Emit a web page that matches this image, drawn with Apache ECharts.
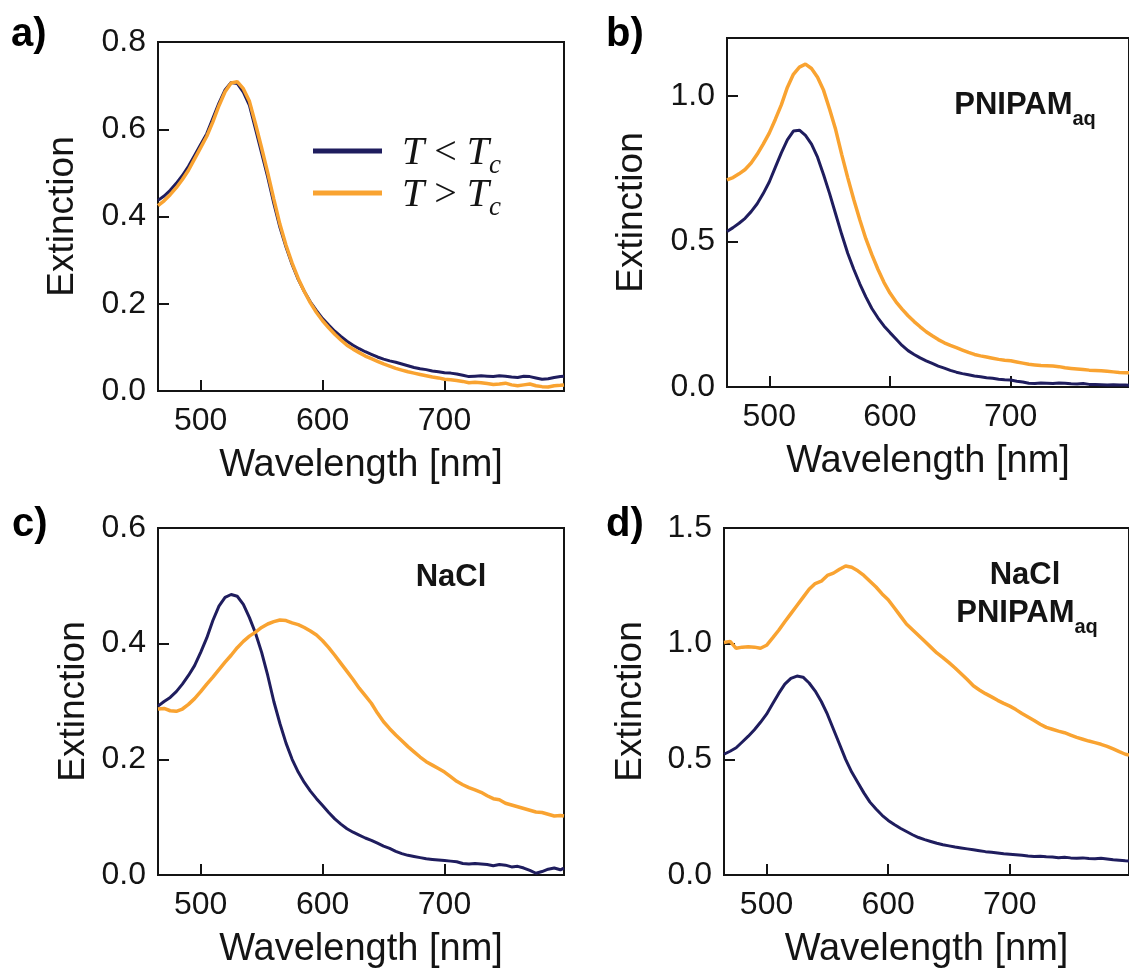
<!DOCTYPE html>
<html>
<head>
<meta charset="utf-8">
<script src="https://cdn.jsdelivr.net/npm/echarts@6/dist/echarts.min.js"></script>
<style>html,body{margin:0;padding:0;background:#fff}#chart{width:1129px;height:970px}</style>
</head>
<body>
<div id="chart"></div>
<script>
// ---------- data ----------
const wavelength = [
  465,470,475,480,485,490,495,500,505,510,
  515,520,525,530,535,540,545,550,555,560,
  565,570,575,580,585,590,595,600,605,610,
  615,620,625,630,635,640,645,650,655,660,
  665,670,675,680,685,690,695,700,705,710,
  715,720,725,730,735,740,745,750,755,760,
  765,770,775,780,785,790,795,798
];
// panel a
const aBelow = [
  .437,.447,.46,.476,.494,.515,.54,.565,.59,.625,
  .66,.69,.707,.705,.685,.655,.6,.545,.49,.43,
  .375,.33,.29,.256,.228,.204,.184,.166,.151,.137,
  .125,.114,.105,.097,.09,.084,.078,.073,.069,.066,
  .062,.058,.054,.051,.049,.046,.044,.042,.041,.039,
  .036,.033,.034,.035,.034,.033,.035,.034,.032,.031,
  .034,.033,.03,.027,.028,.031,.033,.034
];
const aAbove = [
  .425,.436,.45,.466,.485,.506,.532,.558,.584,.617,
  .654,.686,.706,.709,.693,.664,.612,.557,.5,.44,
  .382,.334,.293,.258,.228,.202,.18,.161,.145,.13,
  .117,.105,.096,.088,.08,.074,.068,.062,.057,.052,
  .048,.044,.041,.038,.035,.032,.03,.027,.026,.024,
  .022,.019,.02,.019,.017,.015,.016,.018,.014,.012,
  .014,.016,.012,.01,.009,.012,.013,.014
];
// panel b (PNIPAM aq)
const bBelow = [
  .535,.548,.563,.58,.603,.63,.665,.705,.755,.805,
  .85,.88,.883,.865,.835,.79,.73,.665,.595,.525,
  .46,.405,.355,.31,.27,.238,.21,.187,.165,.143,
  .125,.112,.1,.09,.081,.072,.065,.057,.051,.046,
  .042,.038,.035,.032,.03,.027,.025,.024,.02,.017,
  .013,.012,.014,.013,.012,.014,.013,.011,.01,.012,
  .009,.009,.008,.007,.008,.007,.007,.006
];
const bAbove = [
  .712,.72,.733,.748,.77,.8,.835,.873,.92,.97,
  1.03,1.075,1.1,1.11,1.095,1.065,1.02,.955,.885,.8,
  .72,.645,.575,.51,.455,.405,.36,.323,.293,.268,
  .245,.225,.207,.19,.176,.163,.152,.143,.135,.127,
  .119,.112,.107,.103,.099,.095,.092,.09,.086,.082,
  .078,.076,.074,.073,.072,.07,.066,.064,.062,.06,
  .058,.057,.056,.054,.052,.05,.049,.049
];
// panel c (NaCl)
const cBelow = [
  .292,.3,.307,.317,.33,.345,.362,.385,.41,.44,
  .465,.48,.485,.482,.468,.445,.418,.385,.345,.3,
  .262,.228,.2,.178,.16,.145,.132,.12,.108,.097,
  .088,.08,.074,.069,.064,.06,.055,.05,.046,.041,
  .037,.034,.032,.03,.028,.027,.026,.025,.024,.023,
  .02,.019,.02,.019,.018,.016,.018,.017,.014,.015,
  .012,.008,.003,.006,.01,.012,.009,.012
];
const cAbove = [
  .287,.288,.284,.283,.287,.295,.305,.317,.33,.342,
  .355,.368,.38,.393,.404,.413,.42,.428,.434,.438,
  .441,.44,.436,.433,.428,.422,.415,.405,.393,.38,
  .366,.352,.338,.323,.31,.297,.28,.265,.253,.242,
  .232,.222,.213,.204,.196,.19,.184,.178,.17,.162,
  .156,.151,.147,.143,.137,.132,.13,.124,.121,.118,
  .115,.112,.109,.108,.105,.102,.103,.102
];
// panel d (NaCl + PNIPAM aq)
const dBelow = [
  .522,.535,.55,.575,.6,.628,.66,.695,.74,.785,
  .825,.85,.86,.855,.83,.795,.75,.695,.63,.565,
  .5,.445,.4,.355,.315,.285,.258,.236,.218,.202,
  .188,.174,.162,.153,.145,.137,.131,.126,.121,.117,
  .113,.109,.105,.101,.098,.095,.092,.09,.088,.085,
  .082,.08,.081,.079,.078,.075,.077,.074,.072,.074,
  .071,.07,.072,.069,.066,.064,.062,.061
];
const dAbove = [
  1.005,1.01,.98,.985,.987,.985,.98,.993,1.025,1.058,
  1.095,1.13,1.165,1.2,1.235,1.26,1.27,1.295,1.305,1.322,
  1.336,1.33,1.315,1.295,1.27,1.245,1.215,1.19,1.155,1.12,
  1.085,1.06,1.035,1.01,.985,.96,.94,.918,.895,.87,
  .845,.818,.8,.784,.77,.755,.742,.73,.715,.698,
  .683,.668,.652,.638,.63,.622,.615,.605,.595,.587,
  .579,.572,.565,.556,.545,.533,.522,.518
];
// tick labels
const xTicks = [500, 600, 700];
const yTicksA = [0, 0.2, 0.4, 0.6, 0.8];
const yTicksB = [0, 0.5, 1.0];
const yTicksC = [0, 0.2, 0.4, 0.6];
const yTicksD = [0, 0.5, 1.0, 1.5];
const seriesNames = ['T < Tc', 'T > Tc'];
const panelLetters = ['a)', 'b)', 'c)', 'd)'];

// ---------- styling ----------
const SANS = '"Liberation Sans", Arial, sans-serif';
const SERIF = '"Liberation Serif", "Times New Roman", serif';
const INK = '#141414';
const NAVY = '#1f1d5e';
const ORANGE = '#f9a331';

const chart = echarts.init(document.getElementById('chart'), null, {renderer: 'canvas'});

const gridBox = {show: true, borderColor: INK, borderWidth: 2, backgroundColor: 'transparent'};
const grids = [
  Object.assign({left: 158, top: 42, width: 406, height: 349}, gridBox),
  Object.assign({left: 727, top: 38, width: 408, height: 349}, gridBox),
  Object.assign({left: 158, top: 528, width: 406, height: 350}, gridBox),
  Object.assign({left: 724, top: 528, width: 408, height: 350}, gridBox)
];

function mkX(i) {
  return {
    type: 'value', gridIndex: i, min: 465, max: 798,
    name: 'Wavelength [nm]', nameLocation: 'middle', nameGap: 56,
    nameTextStyle: {fontFamily: SANS, fontSize: 38, color: INK},
    axisLine: {show: true, lineStyle: {color: INK, width: 2}},
    axisTick: {show: true, inside: true, length: 11, customValues: xTicks, lineStyle: {color: INK, width: 2}},
    axisLabel: {show: true, customValues: xTicks, margin: 14, fontFamily: SANS, fontSize: 32, color: INK,
                formatter: v => String(v)},
    splitLine: {show: false}
  };
}
function mkY(i, max, ticks, gap) {
  return {
    type: 'value', gridIndex: i, min: 0, max: max,
    name: 'Extinction', nameLocation: 'middle', nameGap: gap,
    nameTextStyle: {fontFamily: SANS, fontSize: 37, color: INK},
    axisLine: {show: true, lineStyle: {color: INK, width: 2}},
    axisTick: {show: true, inside: true, length: 11, customValues: ticks, lineStyle: {color: INK, width: 2}},
    axisLabel: {show: true, customValues: ticks, margin: 12, fontFamily: SANS, fontSize: 32, color: INK,
                formatter: v => v.toFixed(1)},
    splitLine: {show: false}
  };
}

function pts(vals) { return wavelength.map((w, k) => [w, vals[k]]); }
function line(name, vals, idx, color, width) {
  return {
    type: 'line', name: name, xAxisIndex: idx, yAxisIndex: idx,
    data: pts(vals), showSymbol: false, symbol: 'none', clip: true,
    lineStyle: {color: color, width: width}, itemStyle: {color: color},
    emphasis: {disabled: true}
  };
}

const legendRich = {
  t0: {fontFamily: SERIF, fontStyle: 'italic', fontSize: 40, lineHeight: 40, color: INK, verticalAlign: 'bottom', padding: [0, 0, 6, 15]},
  t:  {fontFamily: SERIF, fontStyle: 'italic', fontSize: 40, lineHeight: 40, color: INK, verticalAlign: 'bottom', padding: [0, 0, 6, 0]},
  o:  {fontFamily: SERIF, fontSize: 40, lineHeight: 40, color: INK, verticalAlign: 'bottom', padding: [0, 0, 6, 0]},
  s:  {fontFamily: SERIF, fontStyle: 'italic', fontSize: 27, lineHeight: 27, color: INK, verticalAlign: 'bottom'}
};
function legendLabel(name) {
  return name === seriesNames[0] ? '{t0|T}{o| < }{t|T}{s|c}' : '{t0|T}{o| > }{t|T}{s|c}';
}
function mkLegend(name, top) {
  return {
    data: [name], orient: 'vertical', left: 313, top: top, padding: 0,
    icon: 'rect', itemWidth: 69, itemHeight: 5, selectedMode: false,
    formatter: legendLabel, textStyle: {padding: [16, 0, 0, 0], rich: legendRich}
  };
}

const annRich = {
  m: {fontFamily: SANS, fontWeight: 'bold', fontSize: 31, lineHeight: 31, fill: INK, color: INK, verticalAlign: 'bottom', padding: [0, 0, 8, 0]},
  s: {fontFamily: SANS, fontWeight: 'bold', fontSize: 20, lineHeight: 20, fill: INK, color: INK, verticalAlign: 'bottom'}
};
function annText(text, x, y, rich) {
  return {
    type: 'text', x: x, y: y, silent: true,
    style: {text: text, x: 0, y: 0, align: 'center', textAlign: 'center', verticalAlign: 'top', textVerticalAlign: 'top',
            fontFamily: SANS, fontWeight: 'bold', fontSize: 31, lineHeight: 31, fill: INK, rich: rich}
  };
}
function letterText(text, x, y) {
  return {
    type: 'text', x: x, y: y, silent: true,
    style: {text: text, x: 0, y: 0, align: 'left', textAlign: 'left', verticalAlign: 'top', textVerticalAlign: 'top',
            fontFamily: SANS, fontWeight: 'bold', fontSize: 40, lineHeight: 40, fill: '#000'}
  };
}

const option = {
  animation: false,
  backgroundColor: '#ffffff',
  grid: grids,
  xAxis: [mkX(0), mkX(1), mkX(2), mkX(3)],
  yAxis: [mkY(0, 0.8, yTicksA, 77), mkY(1, 1.2, yTicksB, 77), mkY(2, 0.6, yTicksC, 66), mkY(3, 1.5, yTicksD, 75)],
  legend: [mkLegend(seriesNames[0], 133), mkLegend(seriesNames[1], 175)],
  series: [
    line(seriesNames[0], aBelow, 0, NAVY, 3),
    line(seriesNames[1], aAbove, 0, ORANGE, 3.5),
    line(seriesNames[0], bBelow, 1, NAVY, 3),
    line(seriesNames[1], bAbove, 1, ORANGE, 3.5),
    line(seriesNames[0], cBelow, 2, NAVY, 3),
    line(seriesNames[1], cAbove, 2, ORANGE, 3.5),
    line(seriesNames[0], dBelow, 3, NAVY, 3),
    line(seriesNames[1], dAbove, 3, ORANGE, 3.5)
  ],
  graphic: [
    letterText(panelLetters[0], 11, 15),
    letterText(panelLetters[1], 606, 15),
    letterText(panelLetters[2], 12, 505),
    letterText(panelLetters[3], 606, 505),
    annText('{m|PNIPAM}{s|aq}', 1025, 98, annRich),
    annText('{m|NaCl}', 451, 570, annRich),
    annText('{m|NaCl}', 1025, 568, annRich),
    annText('{m|PNIPAM}{s|aq}', 1027, 606, annRich)
  ]
};
chart.setOption(option);
</script>
</body>
</html>
